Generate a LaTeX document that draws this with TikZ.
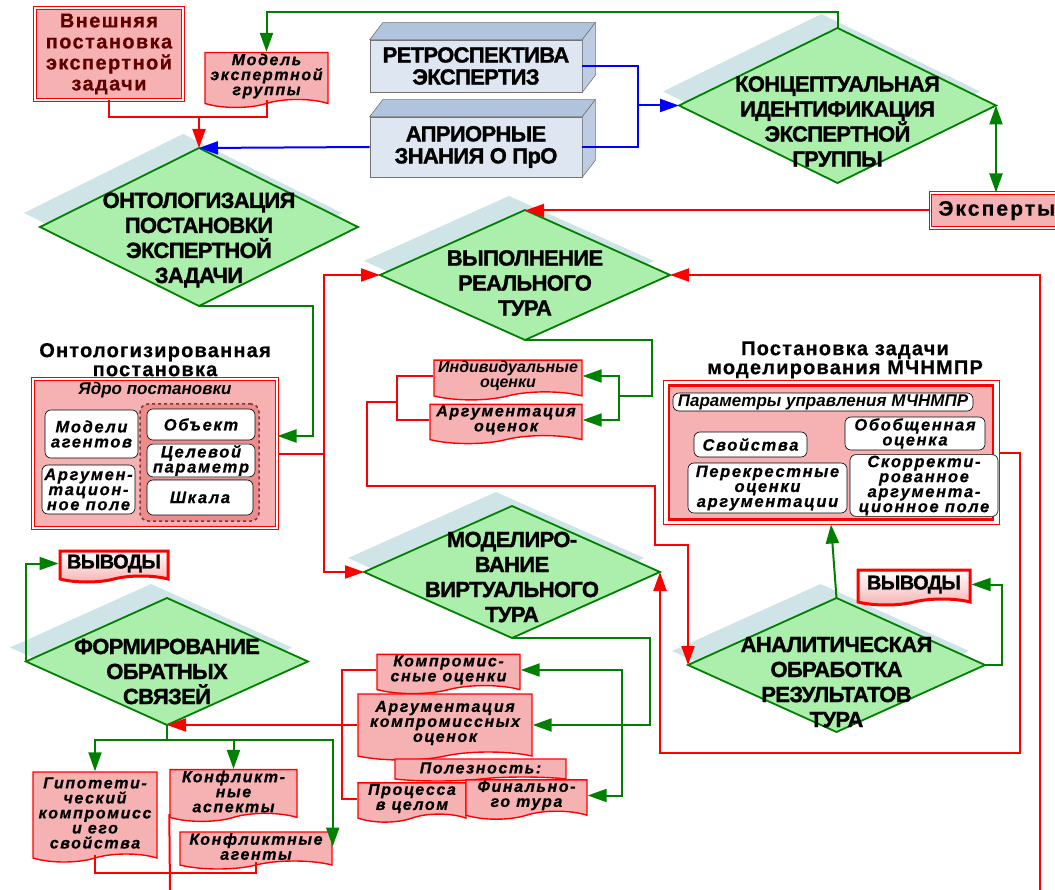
\documentclass[tikz,border=0pt]{standalone}
\usepackage{fontspec}
\setmainfont{Liberation Sans}
\newfontfamily\spacedfont[LetterSpace=10, BoldFeatures={FakeBold=0.6}, BoldItalicFeatures={FakeBold=0.6}]{Liberation Sans}
\newfontfamily\heavyfont[BoldFeatures={FakeBold=1.4, LetterSpace=-3}]{Liberation Sans}
\usetikzlibrary{positioning,calc,shapes.geometric,shapes.symbols,arrows.meta,shadows}

\definecolor{linered}{RGB}{255,0,0}
\definecolor{linegreen}{RGB}{0,128,0}
\definecolor{lineblue}{RGB}{0,0,255}
\definecolor{pinkfill}{RGB}{246,178,178}
\definecolor{pinkdark}{RGB}{236,140,140}
\definecolor{tourfill}{RGB}{172,238,172}
\definecolor{tourshadow}{RGB}{206,228,230}
\definecolor{cubefront}{RGB}{222,230,242}
\definecolor{cubetop}{RGB}{176,196,222}
\definecolor{cubeside}{RGB}{190,204,226}
\definecolor{extext}{RGB}{96,0,0}

\tikzset{
  tour/.style={diamond, draw=linegreen, line width=1.8pt, fill=tourfill, inner sep=0pt, outer sep=0pt,
    general shadow={draw=none, fill=tourshadow, shadow xshift=-16pt, shadow yshift=14pt}},
  tourtext/.style={font=\heavyfont\bfseries\fontsize{22}{25}\selectfont, align=center, inner sep=0pt},
  cube/.style={draw=black!55, fill=cubefront, line width=0.6pt, minimum width=212, inner sep=0pt,
    align=center, font=\heavyfont\bfseries\fontsize{22}{22}\selectfont},
  pinkbox/.style={draw=linered, double=white, line width=1pt, double distance=1.5pt, fill=pinkfill},
  wavy/.style={tape, tape bend top=none, tape bend bottom=in and out, tape bend height=8pt,
    draw=linered, line width=1.4pt, fill=pinkfill, inner sep=1pt, align=center,
    font=\spacedfont\bfseries\itshape\fontsize{16}{15}\selectfont},
  whitebox/.style={draw=black, fill=white, rounded corners=6pt, line width=0.6pt, inner sep=1pt,
    align=center, font=\spacedfont\bfseries\itshape\fontsize{16.5}{15}\selectfont},
  outbox/.style={tape, tape bend top=none, tape bend bottom=in and out, tape bend height=6pt,
    draw=linered, line width=3pt, top color=white, bottom color=pinkfill, inner sep=1pt,
    font=\heavyfont\bfseries\fontsize{20}{20}\selectfont},
  titletext/.style={align=center, inner sep=0pt,
    font=\spacedfont\bfseries\addfontfeature{LetterSpace=6}\fontsize{20}{19}\selectfont},
  redline/.style={draw=linered, line width=2pt},
  greenline/.style={draw=linegreen, line width=2pt},
  blueline/.style={draw=lineblue, line width=2pt},
}

\begin{document}
\begin{tikzpicture}[x=1pt, y=-1pt, >={Triangle[length=19pt, width=13pt]}]
\useasboundingbox (0,0) rectangle (1055,890);

% top row
\node[pinkbox, minimum width=148, minimum height=92, align=center, text=extext,
  font=\spacedfont\bfseries\addfontfeature{LetterSpace=7}\fontsize{20}{21}\selectfont] (ext) at (109,54)
  {Внешняя\\постановка\\экспертной\\задачи};
\node[wavy, minimum width=123, minimum height=52] (model) at (266.5,76) {Модель\\экспертной\\группы};

\node[cube, minimum height=52] (retro) at (476,66) {РЕТРОСПЕКТИВА\\ЭКСПЕРТИЗ};
\node[cube, minimum height=60] (apriori) at (476,147) {АПРИОРНЫЕ\\ЗНАНИЯ О ПрО};
\foreach \c in {retro,apriori}{
  \draw[draw=black!55, line width=0.6pt, fill=cubetop] (\c.north west) -- ++(13,-17)
    -- ($(\c.north east)+(13,-17)$) -- (\c.north east) -- cycle;
  \draw[draw=black!55, line width=0.6pt, fill=cubeside] (\c.north east) -- ++(13,-17)
    -- ($(\c.south east)+(13,-17)$) -- (\c.south east) -- cycle;
}

\node[tour, minimum width=317, minimum height=155,
  label={[tourtext, yshift=-16pt]center:КОНЦЕПТУАЛЬНАЯ\\ИДЕНТИФИКАЦИЯ\\ЭКСПЕРТНОЙ\\ГРУППЫ}] (concept) at (837.5,105.5) {};
\node[pinkbox, anchor=west, minimum width=140, minimum height=35, inner xsep=8pt, text width=124,
  align=left, font=\spacedfont\bfseries\fontsize{21}{21}\selectfont] (experts) at (930,210.5) {Эксперты};

% ontology
\node[tour, minimum width=318, minimum height=158,
  label={[tourtext, yshift=-13pt]center:ОНТОЛОГИЗАЦИЯ\\ПОСТАНОВКИ\\ЭКСПЕРТНОЙ\\ЗАДАЧИ}] (onto) at (199,227) {};
\node[pinkbox, minimum width=244, minimum height=149] (ontobox) at (155,453.5) {};
\node[titletext, above=2pt of ontobox] (ontotitle) {Онтологизированная\\постановка};
\node[below=3pt of ontobox.north, inner sep=0pt, font=\bfseries\itshape\fontsize{17}{17}\selectfont] (coretitle) {Ядро постановки};
\node[whitebox, minimum width=93, minimum height=48] (agents) at (91.5,434) {Модели\\агентов};
\node[whitebox, minimum width=93, minimum height=49] (argfield) at (88.5,489.5) {Аргумен-\\тацион-\\ное поле};
\node[draw=extext!80, dashed, line width=1.5pt, rounded corners=8pt, fill=pinkdark,
  minimum width=119, minimum height=117] (core) at (199.5,462.5) {};
\node[whitebox, minimum width=108, minimum height=31] (object) at (201,424.5) {Объект};
\node[whitebox, minimum width=108, minimum height=31] (target) at (201,460.5) {Целевой\\параметр};
\node[whitebox, minimum width=106, minimum height=35] (scale) at (200,497.5) {Шкала};

% real tour
\node[tour, minimum width=290, minimum height=130,
  label={[tourtext, yshift=-8pt]center:ВЫПОЛНЕНИЕ\\РЕАЛЬНОГО\\ТУРА}] (real) at (525,275) {};
\node[wavy, minimum width=148, minimum height=38,
  font=\bfseries\itshape\fontsize{16}{15}\selectfont] (indiv) at (508,376) {Индивидуальные\\оценки};
\node[wavy, minimum width=152, minimum height=36] (argest) at (506,420) {Аргументация\\оценок};

% model statement
\node[draw=linered, line width=1pt, fill=white, minimum width=336, minimum height=143] (modbox) at (831,452.5) {};
\node[draw=linered, line width=2.2pt, fill=pinkfill, minimum width=324, minimum height=134] (modinner) at (modbox.center) {};
\node[titletext, above=2pt of modbox, xshift=14pt] (modtitle) {Постановка задачи\\моделирования МЧНМПР};
\node[whitebox, minimum width=300, minimum height=18, inner ysep=0pt,
  font=\bfseries\itshape\fontsize{17}{17}\selectfont] (params) at (823,402) {Параметры управления МЧНМПР};
\node[whitebox, minimum width=113, minimum height=25] (props) at (750.5,444.5) {Свойства};
\node[whitebox, minimum width=140, minimum height=33] (general) at (915,433.5) {Обобщенная\\оценка};
\node[whitebox, minimum width=159, minimum height=50] (cross) at (767.5,488) {Перекрестные\\оценки\\аргументации};
\node[whitebox, minimum width=148, minimum height=59] (corrected) at (924,485.5) {Скорректи-\\рованное\\аргумента-\\ционное поле};

% virtual tour
\node[tour, minimum width=296, minimum height=132,
  label={[tourtext, yshift=-5pt]center:МОДЕЛИРО-\\ВАНИЕ\\ВИРТУАЛЬНОГО\\ТУРА}] (virt) at (512,572) {};
\node[wavy, minimum width=143, minimum height=39] (compr) at (448.5,670) {Компромис-\\сные оценки};
\node[wavy, minimum width=174, minimum height=66] (argcompr) at (445,723) {Аргументация\\компромиссных\\оценок};
\node[wavy, minimum width=171, minimum height=22, tape bend height=4pt] (useful) at (480.5,768) {Полезность:};
\node[wavy, minimum width=108, minimum height=35] (process) at (412,798.5) {Процесса\\в целом};
\node[wavy, minimum width=121, minimum height=39] (final) at (526.5,795.5) {Финально-\\го тура};

% analysis
\node[tour, minimum width=297, minimum height=134,
  label={[tourtext, yshift=-17pt]center:АНАЛИТИЧЕСКАЯ\\ОБРАБОТКА\\РЕЗУЛЬТАТОВ\\ТУРА}] (analyt) at (836.5,665) {};
\node[outbox, minimum width=112, minimum height=35] (outR) at (914,584.5) {ВЫВОДЫ};

% feedback
\node[tour, minimum width=282, minimum height=127,
  label={[tourtext, yshift=-10pt]center:ФОРМИРОВАНИЕ\\ОБРАТНЫХ\\СВЯЗЕЙ}] (feedback) at (167,661.5) {};
\node[outbox, minimum width=108, minimum height=31] (outL) at (114,563.5) {ВЫВОДЫ};
\node[wavy, minimum width=124, minimum height=90] (hypo) at (95,813) {Гипотети-\\ческий\\компромисс\\и его\\свойства};
\node[wavy, minimum width=127, minimum height=49] (confasp) at (233.5,791.5) {Конфликт-\\ные\\аспекты};
\node[wavy, minimum width=152, minimum height=37] (confag) at (256,846.5) {Конфликтные\\агенты};

% red links
\path (onto.north) ++(0,-31) coordinate (topjoin);
\draw[redline] (ext.south) |- (topjoin);
\draw[redline] (model.south) |- (topjoin);
\draw[redline, ->] (topjoin) -- (onto.north);
\path (ontobox.east) ++(46,0) coordinate (ontojoin);
\draw[redline, ->] (ontobox.east) -- (ontojoin) |- (real.west);
\draw[redline, ->] (ontojoin) |- (virt.west);
\draw[redline, ->] (experts.west) -- (experts.west -| real.north);
\coordinate (loopin) at (1040,892);
\draw[redline, ->] (loopin) |- (real.east);
\coordinate (modjoin) at (1020,753);
\draw[redline, ->] (modbox.east) -| (modjoin) -| (virt.east);
\coordinate (estjoin) at (397,402);
\coordinate (estturn1) at (367,486);
\coordinate (estturn2) at (655,545);
\draw[redline] (indiv.west) -| (estjoin) |- (argest.west);
\draw[redline, ->] (estjoin) -| (estturn1) -| (estturn2) -| (analyt.west);
\coordinate (comprjoin) at (342,725);
\draw[redline] (compr.west) -| (comprjoin) |- (process.west);
\draw[redline, ->] (comprjoin -| argcompr.west) -- (feedback.south);
\coordinate (hypojoin) at (256,873);
\draw[redline] (hypo.south) |- (hypojoin) -- (confag.south);
\coordinate (aspout) at (170,892);
\draw[redline] (confasp.south west) -- (aspout);

% green links
\draw[greenline, ->] (concept.north) -- ++(0,-16) -| (model.north);
\draw[greenline, <->] (concept.east) -- (concept.east |- experts.north);
\coordinate (ontoturn) at (313,436);
\draw[greenline, ->] (onto.south) -| (ontoturn) -- (ontoturn -| ontobox.east);
\coordinate (realturn) at (652,396);
\coordinate (realjoin) at (619,396);
\draw[greenline] (real.south) -| (realturn) -- (realjoin);
\draw[greenline, ->] (realjoin) |- (indiv.east);
\draw[greenline, ->] (realjoin) |- (argest.east);
\coordinate (virtturn) at (650,725);
\coordinate (virtjoin) at (622,725);
\draw[greenline] (virt.south) -| (virtturn) -- (virtjoin);
\draw[greenline, ->] (virtjoin) |- (compr.east);
\draw[greenline, ->] (virtjoin) -- (virtjoin -| argcompr.east);
\draw[greenline, ->] (virtjoin) |- (final.east);
\draw[greenline, ->] (feedback.west) |- (outL.west);
\coordinate (fbjoin) at (167,740);
\draw[greenline] (feedback.south) -- (fbjoin);
\draw[greenline, ->] (fbjoin) -| (hypo.north);
\draw[greenline, ->] (fbjoin) -| (confasp.north);
\draw[greenline, ->] (fbjoin) -| (confag.east);
\draw[greenline, ->] (analyt.north) -- (modbox.south);
\draw[greenline, ->] (analyt.east) -- ++(17,0) |- (outR.east);

% blue links
\coordinate (cubejoin) at (638,105.5);
\draw[blueline] (retro.east) -| (cubejoin);
\draw[blueline] (apriori.east) -| (cubejoin);
\draw[blueline, ->] (cubejoin) -- (concept.west);
\draw[blueline, ->] (apriori.west) -- (onto.north);
\end{tikzpicture}
\end{document}
